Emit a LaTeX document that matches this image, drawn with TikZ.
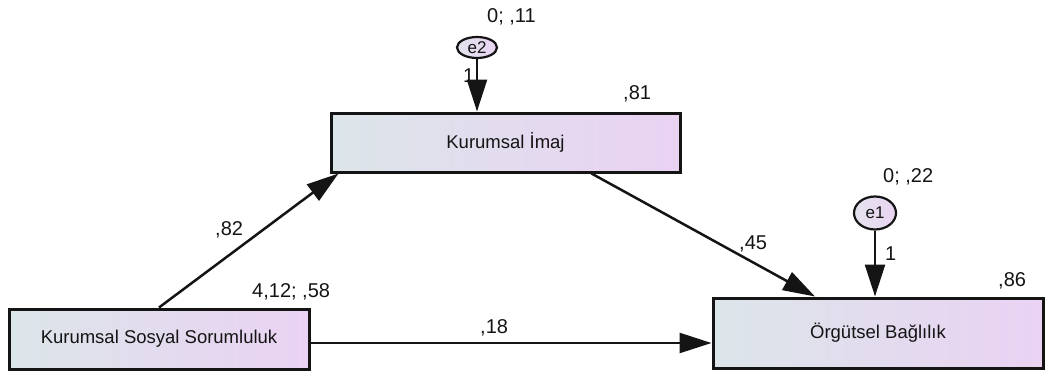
\documentclass[tikz,border=0pt]{standalone}
\usepackage{fontspec}
\setmainfont{Liberation Sans}
\usetikzlibrary{arrows.meta,shapes.geometric}
\definecolor{boxleft}{HTML}{DCE5E9}
\definecolor{boxright}{HTML}{EAD2F3}
\definecolor{errleft}{HTML}{E4E2EE}
\definecolor{errright}{HTML}{E9D4F1}
\definecolor{edge}{HTML}{141414}
\begin{document}
\begin{tikzpicture}[x=1pt,y=-1pt,
  var/.style={rectangle, draw=edge, line width=3pt, left color=boxleft, right color=boxright,
    inner sep=0pt, text=edge, font=\fontsize{18.5}{20}\selectfont},
  err/.style={ellipse, draw=edge, line width=2.2pt, left color=errleft, right color=errright,
    inner sep=0pt, text=edge, font=\fontsize{17}{18}\selectfont},
  effect/.style={line width=2.5pt, draw=edge, -{Triangle[length=32pt,width=20pt]}},
  lbl/.style={anchor=base west, inner sep=0pt, text=edge, font=\fontsize{20}{22}\selectfont}]
\useasboundingbox (0,0) rectangle (1045,372);

% observed variables
\node[var, minimum width=300pt, minimum height=60pt] (kss) at (159,339) {Kurumsal Sosyal Sorumluluk};
\node[var, minimum width=349pt, minimum height=59pt] (ki) at (505.5,142.5) {Kurumsal İmaj};
\node[var, minimum width=330pt, minimum height=70pt] (ob) at (878,333) {Örgütsel Bağlılık};

% error terms
\node[err, minimum width=40pt, minimum height=21pt] (e2) at (477,47.5) {e2};
\node[err, minimum width=42pt, minimum height=33pt] (e1) at (875,213) {e1};

% paths
\draw[effect] (kss.north) -- ([xshift=9pt]ki.south west);
\draw[effect] ([xshift=86pt]ki.south) -- ([xshift=-63pt]ob.north);
\coordinate (kssout) at ([yshift=-4pt]kss.east);
\draw[effect] (kssout) -- (kssout -| ob.west);
\draw[effect] (e2.south) -- (e2.south |- ki.north);
\draw[effect] (e1.south) -- (e1.south |- ob.north);

% estimates
\node[lbl] (p82) at (215,235) {,82};
\node[lbl] (p45) at (739,249) {,45};
\node[lbl] (p18) at (480,333) {,18};
\node[lbl] (r81) at (623,99) {,81};
\node[lbl] (r86) at (998,286) {,86};
\node[lbl] (m412) at (252,297) {4,12; ,58};
\node[lbl] (v11) at (487,23) {0; ,11};
\node[lbl] (v22) at (883,182) {0; ,22};
\node[lbl] (w2) at (463,82) {1};
\node[lbl] (w1) at (885,260) {1};
\end{tikzpicture}
\end{document}
